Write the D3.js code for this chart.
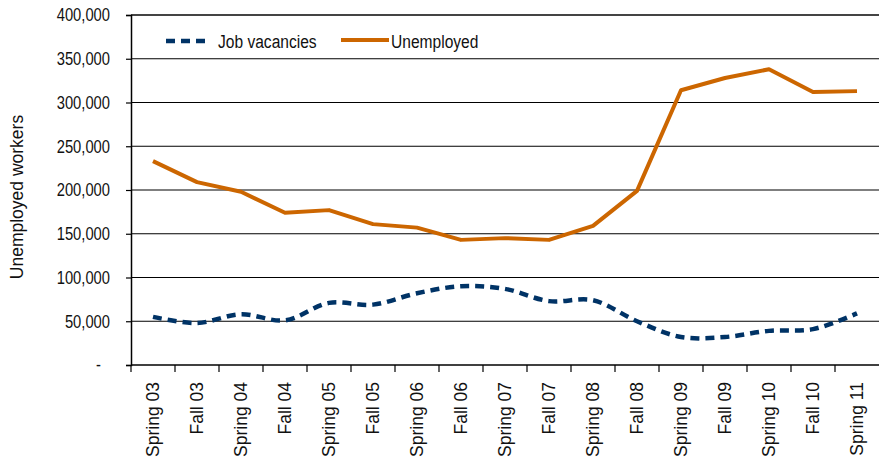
<!DOCTYPE html>
<html>
<head>
<meta charset="utf-8">
<script src="https://cdn.jsdelivr.net/npm/d3@7"></script>
<style>
  body { margin: 0; background: #fff; }
  svg { display: block; }
</style>
</head>
<body>
<div id="chart"></div>
<script>
// chart data
let periods = ['Spring 03', 'Fall 03', 'Spring 04', 'Fall 04', 'Spring 05', 'Fall 05', 'Spring 06', 'Fall 06',
  'Spring 07', 'Fall 07', 'Spring 08', 'Fall 08', 'Spring 09', 'Fall 09', 'Spring 10', 'Fall 10', 'Spring 11'];
let vacancies = [55000, 48000, 58000, 51000, 71000, 69000, 82000, 90000, 87000, 73000, 74000, 50000, 32000, 32000, 39000, 41000, 59000];
let unemployed = [233000, 209000, 198000, 174000, 177000, 161000, 157000, 143000, 145000, 143000, 159000, 199000, 314000, 328000, 338000, 312000, 313000];
let yTicks = [0, 50000, 100000, 150000, 200000, 250000, 300000, 350000, 400000];

let width = 879, height = 461;
let margin = {top: 15, right: 0, bottom: 96, left: 131};
let font = '"Liberation Sans", Arial, sans-serif';
let squeeze = 0.82;   //fake a narrow face by squashing Liberation Sans

let svg = d3.select('#chart').append('svg').attr('width', width).attr('height', height);

let x = d3.scaleBand().domain(periods).range([margin.left, width - margin.right]);
let y = d3.scaleLinear().domain([0, 400000]).range([height - margin.bottom, margin.top]);

//gridlines
svg.append('g').selectAll('line').data(yTicks.filter(d => d > 0)).join('line')
  .attr('x1', margin.left).attr('x2', width)
  .attr('y1', d => y(d)).attr('y2', d => y(d))
  .attr('stroke', d => d === 400000 ? '#444' : '#000')
  .attr('stroke-width', d => d === 400000 ? 2 : 1.2);

//y axis
let yAxis = svg.append('g').attr('transform', `translate(${margin.left},0)`)
  .call(d3.axisLeft(y).tickValues(yTicks).tickSize(5)
    .tickFormat(d => d === 0 ? '-' : d3.format(',')(d)));
yAxis.select('.domain').attr('stroke', '#000').attr('stroke-width', 1.5);
yAxis.selectAll('.tick line').attr('stroke', '#000').attr('stroke-width', 1.2);
yAxis.selectAll('text')
  .attr('x', 0)
  .attr('transform', `translate(-21,0) scale(${squeeze},1)`)
  .attr('font-family', font).attr('font-size', 18).attr('fill', '#111');
yAxis.selectAll('.tick').filter(d => d === 0).select('text').attr('transform', `translate(-30,0) scale(${squeeze},1)`);

//x axis, ticks sit on band edges
let xAxis = svg.append('g').attr('transform', `translate(0,${y(0)})`);
xAxis.append('line').attr('x1', margin.left).attr('x2', width).attr('stroke', '#000').attr('stroke-width', 1.5);
xAxis.selectAll('.edge').data(periods).join('line').attr('class', 'edge')
  .attr('x1', d => x(d)).attr('x2', d => x(d)).attr('y1', 0).attr('y2', 7)
  .attr('stroke', '#000').attr('stroke-width', 1.2);
xAxis.selectAll('text').data(periods).join('text')
  .attr('transform', d => `translate(${x(d) + x.bandwidth() / 2 + 6},17) rotate(-90)`)
  .attr('text-anchor', 'end')
  .attr('font-family', font).attr('font-size', 17.5).attr('fill', '#111')
  .text(d => d);

//y label
svg.append('text')
  .attr('transform', `translate(23,${(margin.top + y(0)) / 2 + 7}) rotate(-90)`)
  .attr('text-anchor', 'middle')
  .attr('font-family', font).attr('font-size', 17.5).attr('fill', '#111')
  .text('Unemployed workers');

let cx = (d, i) => x(periods[i]) + x.bandwidth() / 2;

//unemployed line
svg.append('path').datum(unemployed)
  .attr('d', d3.line().x(cx).y(d => y(d)))
  .attr('fill', 'none').attr('stroke', '#cc6600').attr('stroke-width', 4).attr('stroke-linejoin', 'round');

//job vacancies (smoothed, dashed)
svg.append('path').datum(vacancies)
  .attr('d', d3.line().x(cx).y(d => y(d)).curve(d3.curveCatmullRom.alpha(0.5)))
  .attr('fill', 'none').attr('stroke', '#003366').attr('stroke-width', 4.5)
  .attr('stroke-dasharray', '9,6');

//legend
let legend = svg.append('g');
legend.append('line').attr('x1', 166).attr('x2', 206).attr('y1', 41).attr('y2', 41)
  .attr('stroke', '#003366').attr('stroke-width', 4.5).attr('stroke-dasharray', '9,6');
legend.append('text').attr('transform', `translate(218,47.5) scale(${squeeze},1)`)
  .attr('font-family', font).attr('font-size', 19).attr('fill', '#111').text('Job vacancies');
legend.append('line').attr('x1', 341).attr('x2', 389).attr('y1', 40).attr('y2', 40)
  .attr('stroke', '#cc6600').attr('stroke-width', 4);
legend.append('text').attr('transform', `translate(391,47.5) scale(${squeeze},1)`)
  .attr('font-family', font).attr('font-size', 19).attr('fill', '#111').text('Unemployed');
</script>
</body>
</html>
